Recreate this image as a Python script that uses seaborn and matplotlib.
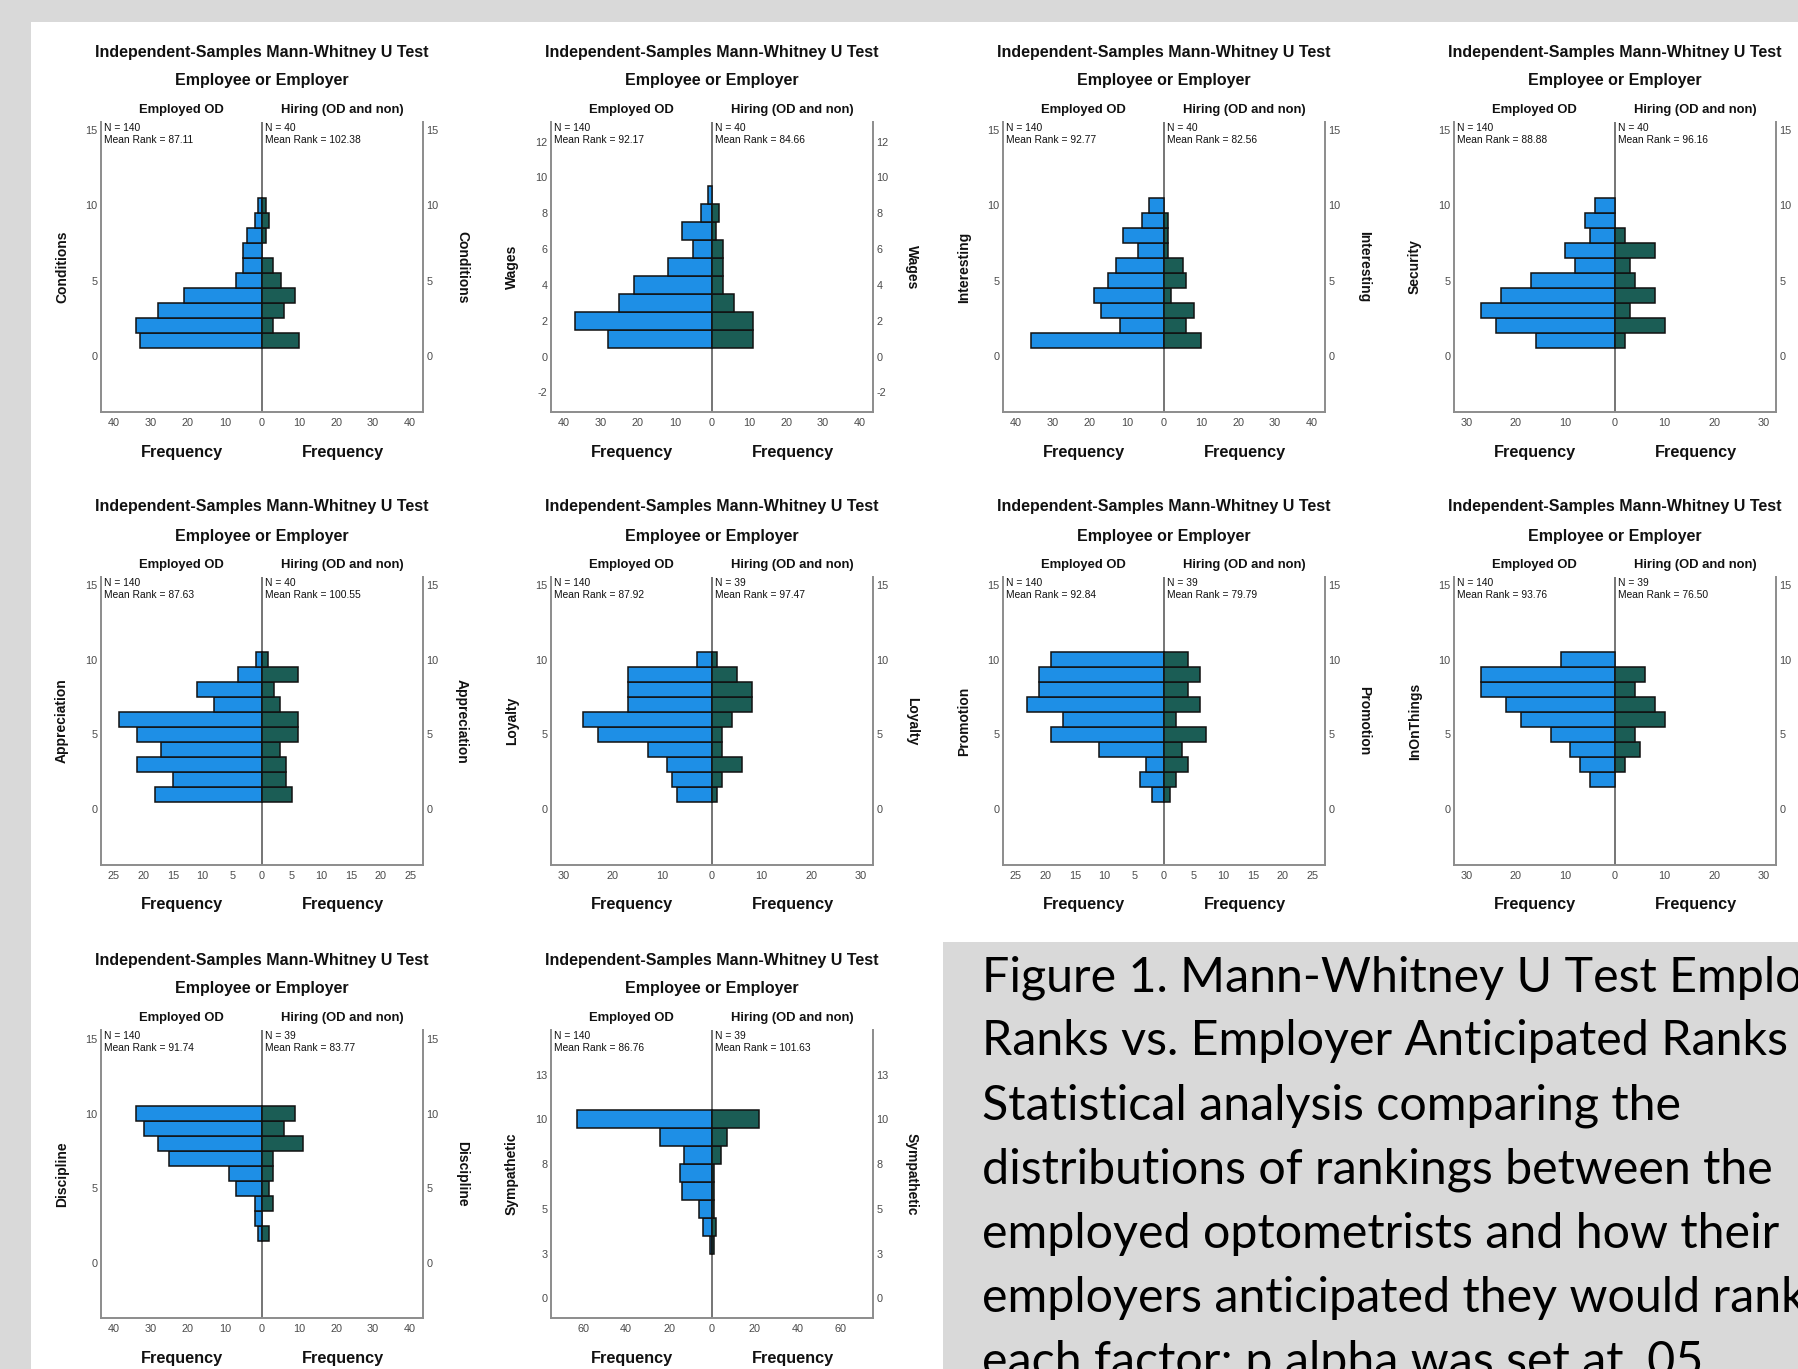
import numpy as np
import pandas as pd
import matplotlib
matplotlib.use("Agg")
import matplotlib.pyplot as plt
import seaborn as sns
from matplotlib.patches import Rectangle
from matplotlib.ticker import FuncFormatter

# ---------------------------------------------------------------- data
ranks = list(range(1, 11))
group_labels = ["Employed OD", "Hiring (OD and non)"]

conditions_employed = [33, 34, 28, 21, 7, 5, 5, 4, 2, 1]
conditions_hiring = [10, 3, 6, 9, 5, 3, 0, 1, 2, 1]
wages_employed = [28, 37, 25, 21, 12, 5, 8, 3, 1, 0]
wages_hiring = [11, 11, 6, 3, 3, 3, 1, 2, 0, 0]
interesting_employed = [36, 12, 17, 19, 15, 13, 7, 11, 6, 4]
interesting_hiring = [10, 6, 8, 2, 6, 5, 1, 1, 1, 0]
security_employed = [16, 24, 27, 23, 17, 8, 10, 5, 6, 4]
security_hiring = [2, 10, 3, 8, 4, 3, 8, 2, 0, 0]
appreciation_employed = [18, 15, 21, 17, 21, 24, 8, 11, 4, 1]
appreciation_hiring = [5, 4, 4, 3, 6, 6, 3, 2, 6, 1]
loyalty_employed = [7, 8, 9, 13, 23, 26, 17, 17, 17, 3]
loyalty_hiring = [1, 2, 6, 2, 2, 4, 8, 8, 5, 1]
promotion_employed = [2, 4, 3, 11, 19, 17, 23, 21, 21, 19]
promotion_hiring = [1, 2, 4, 3, 7, 2, 6, 4, 6, 4]
inonthings_employed = [0, 5, 7, 9, 13, 19, 22, 27, 27, 11]
inonthings_hiring = [0, 0, 2, 5, 4, 10, 8, 4, 6, 0]
discipline_employed = [0, 1, 2, 2, 7, 9, 25, 28, 32, 34]
discipline_hiring = [0, 2, 0, 3, 2, 3, 3, 11, 6, 9]
sympathetic_employed = [0, 0, 1, 4, 6, 14, 15, 13, 24, 63]
sympathetic_hiring = [0, 0, 1, 2, 1, 1, 1, 4, 7, 22]

factor_names = ["Conditions", "Wages", "Interesting", "Security", "Appreciation",
                "Loyalty", "Promotion", "InOnThings", "Discipline", "Sympathetic"]
n_employed = [140, 140, 140, 140, 140, 140, 140, 140, 140, 140]
n_hiring = [40, 40, 40, 40, 40, 39, 39, 39, 39, 39]
mean_rank_employed = [87.11, 92.17, 92.77, 88.88, 87.63, 87.92, 92.84, 93.76, 91.74, 86.76]
mean_rank_hiring = [102.38, 84.66, 82.56, 96.16, 100.55, 97.47, 79.79, 76.50, 83.77, 101.63]

employed_series = [conditions_employed, wages_employed, interesting_employed,
                   security_employed, appreciation_employed, loyalty_employed,
                   promotion_employed, inonthings_employed, discipline_employed,
                   sympathetic_employed]
hiring_series = [conditions_hiring, wages_hiring, interesting_hiring,
                 security_hiring, appreciation_hiring, loyalty_hiring,
                 promotion_hiring, inonthings_hiring, discipline_hiring,
                 sympathetic_hiring]

caption_lines = [
    "Figure 1. Mann-Whitney U Test Employee",
    "Ranks vs. Employer Anticipated Ranks",
    "Statistical analysis comparing the",
    "distributions of rankings between the",
    "employed optometrists and how their",
    "employers anticipated they would rank",
    "each factor; p alpha was set at .05.",
]

# ---------------------------------------------------------------- style
sns.set_theme(style="white")
plt.rcParams["font.family"] = ["Liberation Sans", "DejaVu Sans"]

W, H, DPI = 1799, 1369, 100
GRAY_BG = "#d9d9d9"
BLUE = "#1e8fe6"
TEAL = "#1b5d55"
SPINE = "#8c8c8c"
TICK_TXT = "#4a4a4a"

STD_Y = (-3.75, 15.55)
# per-panel axis settings: (tick max, tick step, x limit, y limits, y ticks)
axis_settings = [
    (40, 10, 43.5, STD_Y, [0, 5, 10, 15]),
    (40, 10, 43.5, (-3.1, 13.1), [-2, 0, 2, 4, 6, 8, 10, 12]),
    (40, 10, 43.5, STD_Y, [0, 5, 10, 15]),
    (30, 10, 32.5, STD_Y, [0, 5, 10, 15]),
    (25, 5, 27.1, STD_Y, [0, 5, 10, 15]),
    (30, 10, 32.5, STD_Y, [0, 5, 10, 15]),
    (25, 5, 27.1, STD_Y, [0, 5, 10, 15]),
    (30, 10, 32.5, STD_Y, [0, 5, 10, 15]),
    (40, 10, 43.5, (-3.67, 15.59), [0, 5, 10, 15]),
    (60, 20, 75.0, (-1.1, 15.0), [0, 2.5, 5, 7.5, 10, 12.5]),
]

col_left = [101, 551, 1003, 1454]
panel_w = 322
row_top = [122, 577, 1030]
row_h = [290, 288, 288]

fig = plt.figure(figsize=(W / DPI, H / DPI), dpi=DPI)
fig.patch.set_facecolor(GRAY_BG)
fig.add_artist(Rectangle((31 / W, 0), 1 - 31 / W, 1 - 22 / H, transform=fig.transFigure,
                         facecolor="white", edgecolor="none", zorder=-2))


def fx(px):
    return px / W


def fy(py):
    return 1 - py / H


abs_fmt = FuncFormatter(lambda v, p: f"{abs(v):.0f}")
round_fmt = FuncFormatter(lambda v, p: f"{int(np.floor(v + 0.5))}")

for i, name in enumerate(factor_names):
    r, c = divmod(i, 4)
    left, top, h = col_left[c], row_top[r], row_h[r]
    right, bottom = left + panel_w, top + h
    ax = fig.add_axes([fx(left), fy(bottom), panel_w / W, h / H])
    ax.set_facecolor("white")
    tmax, tstep, xlim, ylim, yticks = axis_settings[i]

    emp = pd.DataFrame({"rank": ranks, "freq": -np.array(employed_series[i])})
    hir = pd.DataFrame({"rank": ranks, "freq": np.array(hiring_series[i])})
    emp = emp[emp["freq"] != 0]
    hir = hir[hir["freq"] != 0]

    ax.axvline(0, color="#505050", lw=1.1, zorder=1)
    sns.barplot(data=emp, x="freq", y="rank", orient="y", native_scale=True,
                width=1.0, color=BLUE, saturation=1, edgecolor="#111111",
                linewidth=1.1, errorbar=None, ax=ax, zorder=2)
    sns.barplot(data=hir, x="freq", y="rank", orient="y", native_scale=True,
                width=1.0, color=TEAL, saturation=1, edgecolor="#111111",
                linewidth=1.1, errorbar=None, ax=ax, zorder=2)

    ax.set_xlim(-xlim, xlim)
    ax.set_ylim(*ylim)
    ax.set_xticks(np.arange(-tmax, tmax + 1, tstep))
    ax.xaxis.set_major_formatter(abs_fmt)
    ax.set_yticks(yticks)
    ax.yaxis.set_major_formatter(round_fmt)
    ax.tick_params(axis="x", length=0, pad=4.5, labelsize=7.8, labelcolor=TICK_TXT)
    ax.tick_params(axis="y", length=0, pad=2.5, labelsize=7.8, labelcolor=TICK_TXT,
                   left=False, right=False, labelleft=True, labelright=True)
    ax.set_xlabel("")
    ax.set_ylabel("")
    ax.grid(False)
    ax.spines["top"].set_visible(False)
    for s in ("left", "right", "bottom"):
        ax.spines[s].set_color(SPINE)
        ax.spines[s].set_linewidth(1.4)

    # factor name on both sides
    ax.annotate(name, xy=(0, 0.5), xycoords="axes fraction", xytext=(-39, 0),
                textcoords="offset pixels", rotation=90, ha="center", va="center",
                fontsize=10, fontweight="bold", color="#111111")
    ax.annotate(name, xy=(1, 0.5), xycoords="axes fraction", xytext=(39, 0),
                textcoords="offset pixels", rotation=270, ha="center", va="center",
                fontsize=10, fontweight="bold", color="#111111")

    # group statistics
    ax.annotate(f"N = {n_employed[i]}\nMean Rank = {mean_rank_employed[i]:.2f}",
                xy=(0, 1), xycoords="axes fraction", xytext=(3, -1),
                textcoords="offset pixels", ha="left", va="top", fontsize=7.4,
                linespacing=1.2, color="#111111")
    ax.annotate(f"N = {n_hiring[i]}\nMean Rank = {mean_rank_hiring[i]:.2f}",
                xy=(0, 1), xycoords=("data", "axes fraction"), xytext=(3, -1),
                textcoords="offset pixels", ha="left", va="top", fontsize=7.4,
                linespacing=1.2, color="#111111")

    zero_px = (left + right) / 2
    cx = (left + right) / 2
    fig.text(fx(cx), fy(top - 70), "Independent-Samples Mann-Whitney U Test",
             ha="center", va="center", fontsize=11.5, fontweight="bold", color="#111111")
    fig.text(fx(cx), fy(top - 41), "Employee or Employer",
             ha="center", va="center", fontsize=11.5, fontweight="bold", color="#111111")
    fig.text(fx((left + zero_px) / 2), fy(top - 12), group_labels[0],
             ha="center", va="center", fontsize=9.4, fontweight="bold", color="#111111")
    fig.text(fx((zero_px + right) / 2), fy(top - 12), group_labels[1],
             ha="center", va="center", fontsize=9.4, fontweight="bold", color="#111111")
    for gx in ((left + zero_px) / 2, (zero_px + right) / 2):
        fig.text(fx(gx), fy(bottom + 40), "Frequency", ha="center", va="center",
                 fontsize=11.7, fontweight="bold", color="#111111")

# caption box
fig.add_artist(Rectangle((943 / W, 0), 1 - 943 / W, 1 - 942 / H, transform=fig.transFigure,
                         facecolor=GRAY_BG, edgecolor="none", zorder=5))
for k, line in enumerate(caption_lines):
    fig.text(fx(982), fy(991 + 64.2 * k), line, ha="left", va="baseline",
             fontsize=34.8, family=["Lato", "DejaVu Sans"], color="#000000", zorder=6)

fig.savefig("out.png", dpi=DPI, facecolor=fig.get_facecolor())
